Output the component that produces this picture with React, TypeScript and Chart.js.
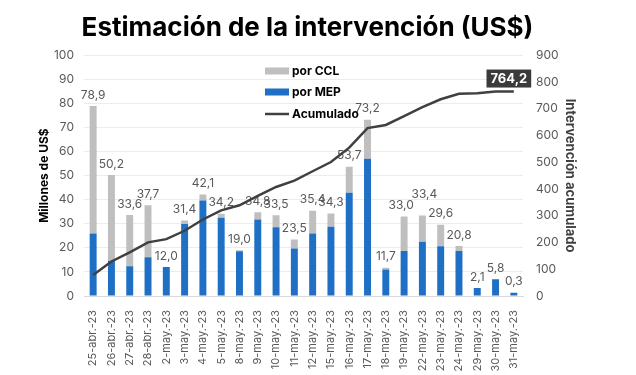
import React, { useEffect, useRef } from "react";
import { Chart, registerables } from "chart.js";

Chart.register(...registerables);

const categories = [
  "25-abr.-23", "26-abr.-23", "27-abr.-23", "28-abr.-23", "2-may.-23", "3-may.-23",
  "4-may.-23", "5-may.-23", "8-may.-23", "9-may.-23", "10-may.-23", "11-may.-23",
  "12-may.-23", "15-may.-23", "16-may.-23", "17-may.-23", "18-may.-23", "19-may.-23",
  "22-may.-23", "23-may.-23", "24-may.-23", "29-may.-23", "30-may.-23", "31-may.-23",
];
const porMEP = [26.0, 14.6, 12.4, 16.1, 12.0, 29.9, 39.7, 32.5, 18.6, 31.8, 28.5, 19.7, 26.0, 28.8, 42.9, 57.0, 11.0, 18.7, 22.5, 20.7, 18.7, 3.3, 7.0, 1.4];
const porCCL = [52.9, 35.6, 21.2, 21.6, 0.0, 1.5, 2.4, 1.7, 0.4, 3.0, 5.0, 3.8, 9.4, 5.5, 10.8, 16.2, 0.7, 14.3, 10.9, 8.9, 2.1, -1.2, -1.2, -1.1];
const leftTicks = { min: 0, max: 100, step: 10 };
const rightTicks = { min: 0, max: 900, step: 100 };

const totals = porMEP.map((v, i) => Math.round((v + porCCL[i]) * 10) / 10);
const acumulado: number[] = [];
totals.reduce((acc, v) => {
  const s = Math.round((acc + v) * 10) / 10;
  acumulado.push(s);
  return s;
}, 0);

const fmt = (v: number) => v.toFixed(1).replace(".", ",");

const FONT = "Inter, 'Noto Sans', sans-serif";
const GRAY = "#bfbfbf";
const BLUE = "#1f6fc4";
const LINE = "#404040";

const labelsPlugin = {
  id: "customLabels",
  beforeDatasetDraw(chart: any, args: any) {
    if (args.index !== 2) return;
    const ctx = chart.ctx;
    const y = chart.scales.y;
    const x = chart.scales.x;
    ctx.save();
    ctx.font = `12px ${FONT}`;
    ctx.fillStyle = "#595959";
    ctx.textAlign = "center";
    ctx.textBaseline = "bottom";
    totals.forEach((t, i) => {
      const top = Math.max(porMEP[i], porMEP[i] + Math.max(porCCL[i], 0));
      let px = x.getPixelForValue(i);
      let py = y.getPixelForValue(top) - 5;
      // avoid overlap of neighbouring labels of similar height
      if (i > 0 && i === 18) { py -= 10; px += 2; }
      if (i === 17) px -= 3;
      ctx.fillText(fmt(t), px, py);
    });
    ctx.restore();
  },
  afterDatasetsDraw(chart: any) {
    const ctx = chart.ctx;
    const y2 = chart.scales.y2;
    const x = chart.scales.x;
    const last = acumulado.length - 1;
    const px = x.getPixelForValue(last);
    const py = y2.getPixelForValue(acumulado[last]);
    ctx.save();
    ctx.font = `bold 13px ${FONT}`;
    const text = fmt(acumulado[last]);
    const w = ctx.measureText(text).width + 8;
    const h = 18;
    const cx = px - 5;
    const by = py - 4;
    ctx.fillStyle = "#3a3a3a";
    ctx.fillRect(cx - w / 2, by - h, w, h);
    ctx.fillStyle = "#ffffff";
    ctx.textAlign = "center";
    ctx.textBaseline = "middle";
    ctx.fillText(text, cx, by - h / 2 + 0.5);
    ctx.restore();
  },
  afterDraw(chart: any) {
    const ctx = chart.ctx;
    ctx.save();
    const lx = 265;
    const items = [
      { label: "por CCL", type: "box", color: GRAY, y: 71 },
      { label: "por MEP", type: "box", color: BLUE, y: 92 },
      { label: "Acumulado", type: "line", color: LINE, y: 114 },
    ];
    ctx.font = `bold 12px ${FONT}`;
    ctx.textBaseline = "middle";
    ctx.textAlign = "left";
    items.forEach((it) => {
      if (it.type === "box") {
        ctx.fillStyle = it.color;
        ctx.fillRect(lx, it.y - 3.5, 24, 7);
      } else {
        ctx.strokeStyle = it.color;
        ctx.lineWidth = 2.5;
        ctx.beginPath();
        ctx.moveTo(lx, it.y);
        ctx.lineTo(lx + 24, it.y);
        ctx.stroke();
      }
      ctx.fillStyle = "#000000";
      ctx.fillText(it.label, lx + 27, it.y);
    });
    ctx.restore();
  },
};

export default function App() {
  const ref = useRef<HTMLCanvasElement>(null);
  useEffect(() => {
    if (!ref.current) return;
    const chart = new Chart(ref.current, {
      type: "bar",
      data: {
        labels: categories,
        datasets: [
          {
            type: "bar",
            label: "por MEP",
            data: porMEP,
            backgroundColor: BLUE,
            stack: "s",
            yAxisID: "y",
            order: 1,
            barPercentage: 0.76,
            categoryPercentage: 0.5,
          },
          {
            type: "bar",
            label: "por CCL",
            data: porCCL,
            backgroundColor: GRAY,
            stack: "s",
            yAxisID: "y",
            order: 2,
            barPercentage: 0.76,
            categoryPercentage: 0.5,
          },
          {
            type: "line",
            label: "Acumulado",
            data: acumulado,
            borderColor: LINE,
            borderWidth: 2.5,
            pointRadius: 0,
            tension: 0,
            yAxisID: "y2",
            order: 0,
          } as any,
        ],
      },
      options: {
        responsive: false,
        animation: false,
        layout: { padding: { left: 37, right: 58, top: 0, bottom: 0 } },
        plugins: {
          legend: { display: false },
          tooltip: { enabled: false },
          title: {
            display: true,
            text: "Estimación de la intervención (US$)",
            color: "#000000",
            font: { family: FONT, size: 26, weight: "bold" },
            padding: { top: 13, bottom: 11 },
          },
        },
        scales: {
          x: {
            stacked: true,
            grid: { display: false },
            border: { color: "#d9d9d9" },
            ticks: {
              color: "#595959",
              font: { family: FONT, size: 11 },
              maxRotation: 90,
              minRotation: 90,
              autoSkip: false,
              padding: 6,
            },
            afterFit: (s: any) => { s.height = 79; },
          },
          y: {
            stacked: true,
            position: "left",
            min: leftTicks.min,
            max: leftTicks.max,
            grid: { color: "#ececec", drawTicks: false },
            border: { display: false },
            ticks: {
              stepSize: leftTicks.step,
              color: "#595959",
              font: { family: FONT, size: 12 },
              padding: 10,
            },
            title: {
              display: true,
              text: "Millones de US$",
              color: "#000000",
              font: { family: FONT, size: 12, weight: "bold" },
              padding: 0,
            },
            afterFit: (s: any) => { s.width = 47; },
          },
          y2: {
            position: "right",
            min: rightTicks.min,
            max: rightTicks.max,
            grid: { display: false, drawTicks: false },
            border: { display: false },
            ticks: {
              stepSize: rightTicks.step,
              color: "#595959",
              font: { family: FONT, size: 12 },
              padding: 13,
            },
            title: {
              display: true,
              text: "Intervención acumulado",
              color: "#404040",
              font: { family: FONT, size: 13, weight: "bold" },
              padding: 0,
            },
            afterFit: (s: any) => { s.width = 55; },
          },
        },
      },
      plugins: [labelsPlugin],
    });
    return () => chart.destroy();
  }, []);
  return (
    <div style={{ position: "fixed", left: 0, top: 0, width: 636, height: 375, background: "#fff" }}>
      <canvas ref={ref} width={636} height={375} style={{ width: 636, height: 375 }} />
    </div>
  );
}
